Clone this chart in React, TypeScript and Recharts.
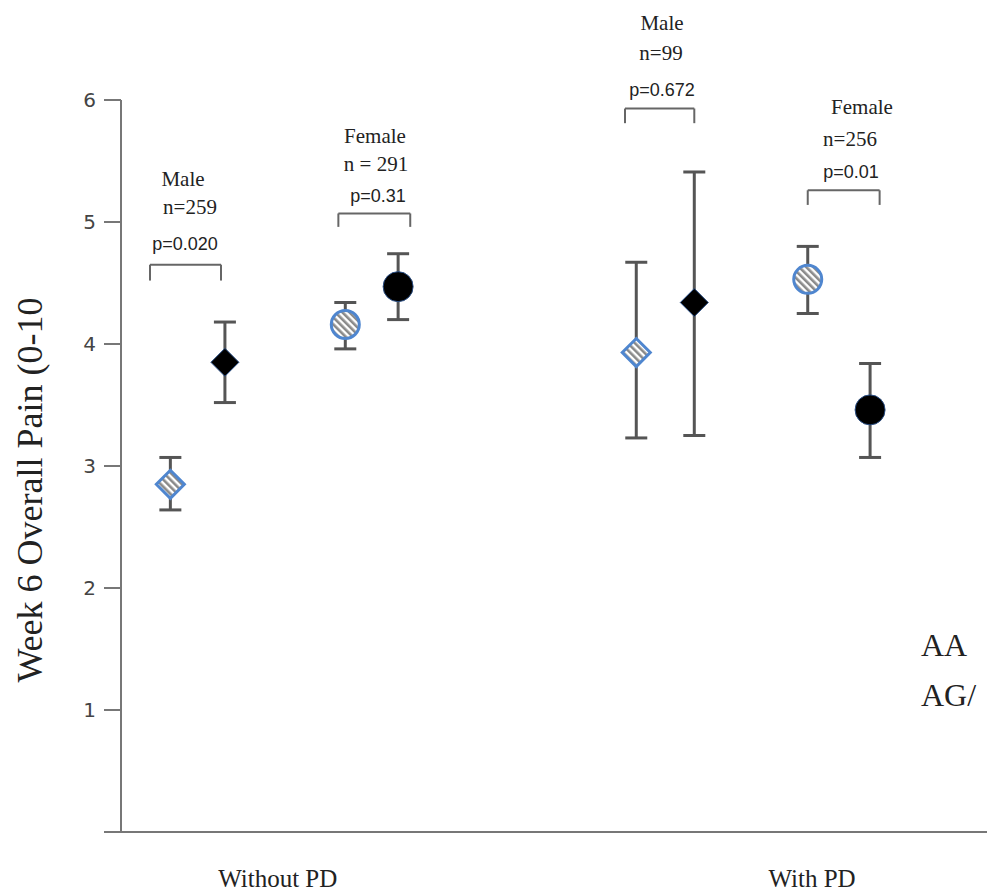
import React from "react";
import {
  ScatterChart,
  Scatter,
  XAxis,
  YAxis,
  ErrorBar,
  ReferenceLine,
} from "recharts";

// group labels on the x axis and where they sit
const categories = ["Without PD", "With PD"];
const categoryX = [1.81, 7.98];

// AA genotype (hatched markers)
const aaX = [0.57, 2.59, 5.95, 7.93];
const aaMean = [2.85, 4.16, 3.93, 4.53];
const aaLow = [2.64, 3.96, 3.23, 4.25];
const aaHigh = [3.07, 4.34, 4.67, 4.8];

// AG/GG genotype (black markers)
const agX = [1.2, 3.2, 6.62, 8.65];
const agMean = [3.85, 4.47, 4.34, 3.46];
const agLow = [3.52, 4.2, 3.25, 3.07];
const agHigh = [4.18, 4.74, 5.41, 3.84];

const sex = ["Male", "Female", "Male", "Female"];

// comparison brackets
const bracketLeft = [0.335, 2.51, 5.82, 7.93];
const bracketRight = [1.155, 3.34, 6.62, 8.76];
const bracketTop = [4.65, 5.07, 5.93, 5.26];
const bracketFoot = [4.52, 4.96, 5.81, 5.14];

const yTicks = [0, 1, 2, 3, 4, 5, 6];

const build = (xs: number[], mean: number[], low: number[], high: number[]) =>
  xs.map((x, i) => ({
    x,
    y: mean[i],
    err: [mean[i] - low[i], high[i] - mean[i]],
    shape: sex[i] === "Male" ? "diamond" : "circle",
  }));

const aaData = build(aaX, aaMean, aaLow, aaHigh);
const agData = build(agX, agMean, agLow, agHigh);

const serif = "'Liberation Serif', 'Times New Roman', serif";

const HatchShape = (props: any) => {
  const { cx, cy, payload } = props;
  if (payload.shape === "diamond") {
    const h = 14;
    return (
      <polygon
        points={`${cx},${cy - h} ${cx + h},${cy} ${cx},${cy + h} ${cx - h},${cy}`}
        fill="url(#hatch)"
        stroke="#4f86cf"
        strokeWidth={3}
      />
    );
  }
  return <circle cx={cx} cy={cy} r={14} fill="url(#hatch)" stroke="#4f86cf" strokeWidth={3} />;
};

const BlackShape = (props: any) => {
  const { cx, cy, payload } = props;
  if (payload.shape === "diamond") {
    const h = 14;
    return (
      <polygon
        points={`${cx},${cy - h} ${cx + h},${cy} ${cx},${cy + h} ${cx - h},${cy}`}
        fill="#000"
        stroke="#2a4f86"
        strokeWidth={1}
      />
    );
  }
  return <circle cx={cx} cy={cy} r={15} fill="#000" stroke="#2a4f86" strokeWidth={1} />;
};

const CategoryTick = (props: any) => {
  const { x, y, payload } = props;
  const i = categoryX.indexOf(payload.value);
  return (
    <text x={x} y={y + 47} textAnchor="middle" fontFamily={serif} fontSize={25} fill="#222">
      {categories[i]}
    </text>
  );
};

type Note = { t: string; x: number; y: number; narrow?: boolean };
const notes: Note[] = [
  { t: "Male", x: 183, y: 186 },
  { t: "n=259", x: 190, y: 214 },
  { t: "p=0.020", x: 185, y: 250, narrow: true },
  { t: "Female", x: 375, y: 143 },
  { t: "n = 291", x: 376, y: 171 },
  { t: "p=0.31", x: 378, y: 202, narrow: true },
  { t: "Male", x: 662, y: 30 },
  { t: "n=99", x: 661, y: 60 },
  { t: "p=0.672", x: 662, y: 96, narrow: true },
  { t: "Female", x: 862, y: 114 },
  { t: "n=256", x: 850, y: 146 },
  { t: "p=0.01", x: 851, y: 178, narrow: true },
];

export default function App() {
  return (
    <div style={{ position: "absolute", left: 0, top: 0, width: 987, height: 894, background: "#fff" }}>
      <svg width={0} height={0} style={{ position: "absolute" }}>
        <defs>
          <pattern id="hatch" width={5} height={5} patternUnits="userSpaceOnUse" patternTransform="rotate(-45)">
            <rect width={5} height={5} fill="#fff" />
            <rect width={2.6} height={5} fill="#8a8a8a" />
          </pattern>
        </defs>
      </svg>
      <ScatterChart width={987} height={894} margin={{ top: 100, right: 0, bottom: 0, left: 0 }}>
        <XAxis
          type="number"
          dataKey="x"
          domain={[0, 10]}
          ticks={categoryX}
          tick={<CategoryTick />}
          tickLine={false}
          axisLine={{ stroke: "#777", strokeWidth: 2 }}
          height={62}
        />
        <YAxis
          type="number"
          dataKey="y"
          domain={[0, 6]}
          ticks={yTicks}
          tickFormatter={(v: number) => (v === 0 ? "" : String(v))}
          width={121}
          tickSize={17}
          tickMargin={8}
          axisLine={{ stroke: "#777", strokeWidth: 2 }}
          tickLine={{ stroke: "#777", strokeWidth: 2 }}
          tick={{ fontFamily: "'DejaVu Sans', sans-serif", fontSize: 20, fill: "#444" }}
          label={{
            value: "Week 6 Overall Pain (0-10",
            angle: -90,
            position: "insideLeft",
            dx: 24,
            dy: 24,
            style: { fontFamily: serif, fontSize: 36, fill: "#222", textAnchor: "middle" },
          }}
        />
        {bracketLeft.map((l, i) => (
          <ReferenceLine
            key={`t${i}`}
            segment={[{ x: l, y: bracketTop[i] }, { x: bracketRight[i], y: bracketTop[i] }]}
            stroke="#666"
            strokeWidth={2}
          />
        ))}
        {bracketLeft.map((l, i) => (
          <ReferenceLine
            key={`l${i}`}
            segment={[{ x: l, y: bracketTop[i] }, { x: l, y: bracketFoot[i] }]}
            stroke="#666"
            strokeWidth={2}
          />
        ))}
        {bracketRight.map((r, i) => (
          <ReferenceLine
            key={`r${i}`}
            segment={[{ x: r, y: bracketTop[i] }, { x: r, y: bracketFoot[i] }]}
            stroke="#666"
            strokeWidth={2}
          />
        ))}
        <Scatter data={aaData} shape={<HatchShape />} isAnimationActive={false}>
          <ErrorBar dataKey="err" direction="y" width={11} stroke="#555" strokeWidth={3} />
        </Scatter>
        <Scatter data={agData} shape={<BlackShape />} isAnimationActive={false}>
          <ErrorBar dataKey="err" direction="y" width={11} stroke="#555" strokeWidth={3} />
        </Scatter>
      </ScatterChart>
      <svg width={987} height={894} style={{ position: "absolute", left: 0, top: 0, pointerEvents: "none" }}>
        {notes.map((n, i) => (
          <text
            key={i}
            x={n.x}
            y={n.y}
            textAnchor="middle"
            fontFamily={n.narrow ? "'Liberation Sans Narrow', 'Liberation Sans', sans-serif" : serif}
            fontSize={n.narrow ? 18 : 21}
            fill="#222"
          >
            {n.t}
          </text>
        ))}
        <text x={921} y={656} fontFamily={serif} fontSize={32} fill="#222">AA</text>
        <text x={921} y={706} fontFamily={serif} fontSize={32} fill="#222">AG/</text>
      </svg>
    </div>
  );
}
